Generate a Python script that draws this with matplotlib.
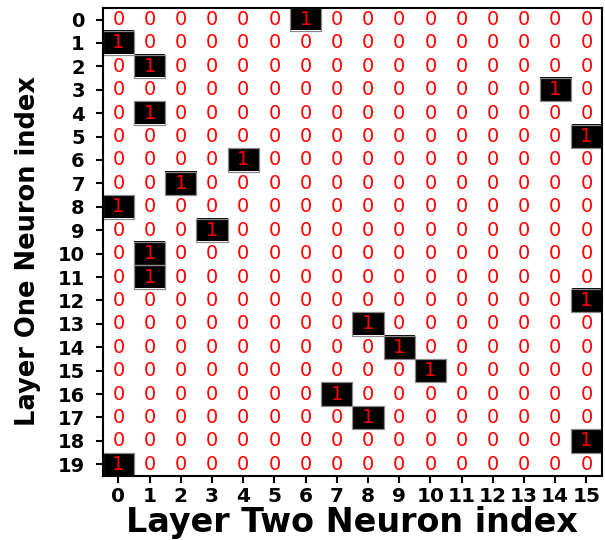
import numpy as np
import matplotlib
matplotlib.use('Agg')
import matplotlib.pyplot as plt
from matplotlib.patches import Rectangle

# --- Connection map: for each layer-one neuron, the layer-two neuron it maps to ---
layer_one_idx = list(range(20))
layer_two_idx = list(range(16))
active_col = [6, 0, 1, 14, 1, 15, 4, 2, 0, 3, 1, 1, 15, 8, 9, 10, 7, 8, 15, 0]

conn = np.zeros((len(layer_one_idx), len(layer_two_idx)), dtype=int)
for r, c in zip(layer_one_idx, active_col):
    conn[r, c] = 1

fig = plt.figure(figsize=(6.05, 5.4), dpi=100)
ax = fig.add_axes([0.170, 0.1185, 0.825, 0.867])

ax.imshow(conn, cmap='binary', aspect='auto', interpolation='nearest', vmin=0, vmax=1)

# thin grey rim around the active cells
for r, c in zip(layer_one_idx, active_col):
    ax.add_patch(Rectangle((c - 0.5, r - 0.5), 1, 1, fill=False,
                           edgecolor='#8a8a8a', linewidth=0.9))

# write the cell value in every cell
for i in range(conn.shape[0]):
    for j in range(conn.shape[1]):
        ax.text(j, i, str(conn[i, j]), ha='center', va='center',
                color='red', fontsize=14)

ax.set_xticks(layer_two_idx)
ax.set_xticklabels([str(v) for v in layer_two_idx], fontsize=14.5, fontweight='bold')
ax.set_yticks(layer_one_idx)
ax.set_yticklabels([str(v) for v in layer_one_idx], fontsize=14, fontweight='bold')
ax.tick_params(axis='x', length=5, width=1.5, pad=3)
ax.tick_params(axis='y', length=5, width=1.5, pad=8)

ax.set_xlabel('Layer Two Neuron index', fontsize=24, fontweight='bold')
ax.set_ylabel('Layer One Neuron index', fontsize=18.5, fontweight='bold')
ax.xaxis.set_label_coords(0.5, -0.063)
ax.yaxis.set_label_coords(-0.124, 0.481)

for s in ax.spines.values():
    s.set_linewidth(1.5)

fig.savefig('out.png', dpi=100)
